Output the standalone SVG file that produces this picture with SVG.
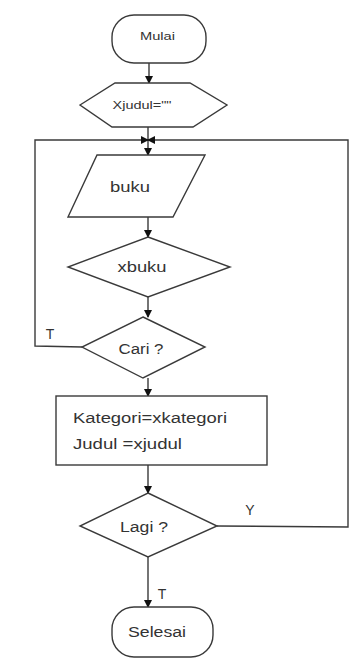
<svg xmlns="http://www.w3.org/2000/svg" width="360" height="666" viewBox="0 0 360 666">
<defs>
<marker id="ah" markerWidth="8" markerHeight="8" refX="7" refY="4" orient="auto" markerUnits="userSpaceOnUse">
<path d="M0,0 L8,4 L0,8 Z" fill="#111"/>
</marker>
<style>
.s{fill:#fff;stroke:#3a3a3a;stroke-width:1.4}
.c{fill:none;stroke:#3a3a3a;stroke-width:1.4}
.t{font-family:"Liberation Sans",Arial,sans-serif;fill:#333;text-anchor:middle;dominant-baseline:central}
.sm{font-size:11px}
.md{font-size:14px}
</style>
</defs>
<rect width="360" height="666" fill="#fff"/>
<g id="connectors">
<line class="c" x1="149" y1="63" x2="149" y2="83" marker-end="url(#ah)"/>
<line class="c" x1="148" y1="127" x2="148" y2="140"/>
<line class="c" x1="148" y1="140" x2="148" y2="155" marker-end="url(#ah)"/>
<line class="c" x1="148" y1="217" x2="148" y2="237" marker-end="url(#ah)"/>
<line class="c" x1="148" y1="297" x2="148" y2="317" marker-end="url(#ah)"/>
<line class="c" x1="148" y1="378" x2="148" y2="396" marker-end="url(#ah)"/>
<line class="c" x1="148" y1="465" x2="148" y2="493" marker-end="url(#ah)"/>
<line class="c" x1="148" y1="557" x2="148" y2="607" marker-end="url(#ah)"/>
<polyline class="c" points="82,347 35,346 35,140 148,140" marker-end="url(#ah)"/>
<polyline class="c" points="217,526 348,527 348,140 148,140" marker-end="url(#ah)"/>
<text class="t md" x="50" y="334">T</text>
<text class="t md" x="250" y="510">Y</text>
<text class="t md" x="162" y="594">T</text>
</g>
<g id="mulai">
<rect class="s" x="112" y="15" width="94" height="48" rx="22"/>
<text class="t sm" x="157.500" y="36" textLength="35" lengthAdjust="spacingAndGlyphs">Mulai</text>
</g>
<g id="xjudul">
<polygon class="s" points="80,105 115,83 190,83 227,105 193,127 112,127"/>
<text class="t sm" x="142" y="105" textLength="59" lengthAdjust="spacingAndGlyphs">Xjudul=""</text>
</g>
<g id="buku">
<polygon class="s" points="97,155 205,155 173,217 68,217"/>
<text class="t md" x="130" y="187" textLength="40" lengthAdjust="spacingAndGlyphs">buku</text>
</g>
<g id="xbuku">
<polygon class="s" points="148,237 230,267 148,297 68,267"/>
<text class="t md" x="142" y="267" textLength="49" lengthAdjust="spacingAndGlyphs">xbuku</text>
</g>
<g id="cari">
<polygon class="s" points="143,317 205,347 143,378 82,347"/>
<text class="t md" x="141" y="349" textLength="45" lengthAdjust="spacingAndGlyphs">Cari ?</text>
</g>
<g id="assign">
<rect class="s" x="56" y="396" width="211" height="69"/>
<text class="t md" x="73" y="418" style="text-anchor:start" textLength="154" lengthAdjust="spacingAndGlyphs">Kategori=xkategori</text>
<text class="t md" x="73" y="444" style="text-anchor:start" textLength="109" lengthAdjust="spacingAndGlyphs">Judul =xjudul</text>
</g>
<g id="lagi">
<polygon class="s" points="148,493 217,526 148,557 80,526"/>
<text class="t md" x="144" y="527" textLength="48" lengthAdjust="spacingAndGlyphs">Lagi ?</text>
</g>
<g id="selesai">
<rect class="s" x="112" y="607" width="101" height="50" rx="22"/>
<text class="t md" x="157" y="632" textLength="58" lengthAdjust="spacingAndGlyphs">Selesai</text>
</g>
</svg>
